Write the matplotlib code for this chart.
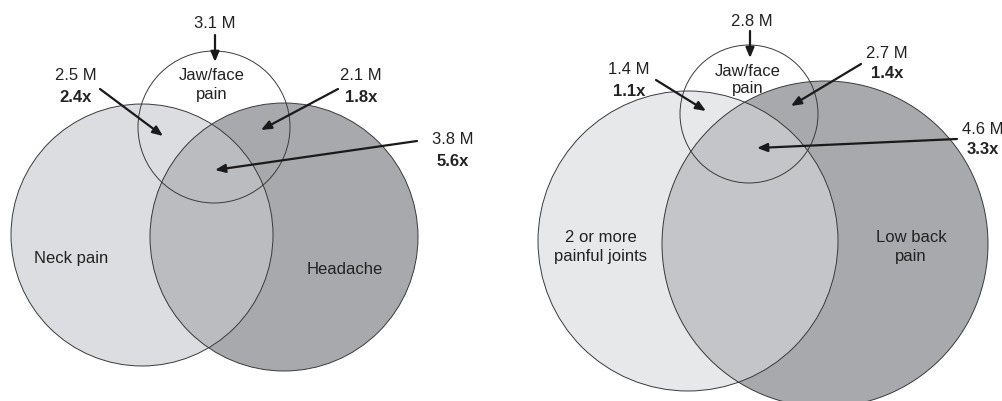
import matplotlib.pyplot as plt
from matplotlib.patches import Circle

plt.rcParams['font.family'] = ['Liberation Sans', 'DejaVu Sans']

# left diagram: neck pain / headache / jaw-face pain
left_sets = ['Neck pain', 'Headache', 'Jaw/face\npain']
left_counts = ['3.1 M', '2.5 M', '2.1 M', '3.8 M']
left_ratios = [None, '2.4x', '1.8x', '5.6x']

# right diagram: joints / low back / jaw-face pain
right_sets = ['2 or more\npainful joints', 'Low back\npain', 'Jaw/face\npain']
right_counts = ['2.8 M', '1.4 M', '2.7 M', '4.6 M']
right_ratios = [None, '1.1x', '1.4x', '3.3x']

fig = plt.figure(figsize=(10.03, 4.01), dpi=100)
ax = fig.add_axes([0, 0, 1, 1])
ax.set_xlim(0, 1003)
ax.set_ylim(401, 0)
ax.set_aspect('equal')
ax.axis('off')

edge = '#3a3a3a'
fs = 12


def venn(ca, cb, cj, col_a, col_b, col_ab):
    a = Circle(ca[:2], ca[2], fc=col_a, ec='none', zorder=1)
    b = Circle(cb[:2], cb[2], fc=col_b, ec='none', zorder=1)
    ax.add_patch(a)
    ax.add_patch(b)
    ab = Circle(cb[:2], cb[2], fc=col_ab, ec='none', zorder=2)
    ax.add_patch(ab)
    ab.set_clip_path(a)
    for c in (ca, cb, cj):
        ax.add_patch(Circle(c[:2], c[2], fc='none', ec=edge, lw=0.7, zorder=3))


def label(x, y, count, ratio, tail, head):
    ax.text(x, y, count, ha='center', va='center', fontsize=fs, color='#222222', zorder=5)
    if ratio:
        ax.text(x, y + 21, ratio, ha='center', va='center', fontsize=fs,
                fontweight='bold', color='#222222', zorder=5)
    ax.annotate('', xy=head, xytext=tail, zorder=6,
                arrowprops=dict(arrowstyle='-|>,head_length=0.6,head_width=0.25',
                                color='#1a1a1a', lw=1.6, shrinkA=0, shrinkB=0))


# ---- left
venn((142, 235, 131), (284, 237, 134), (214, 127, 76),
     '#dcdde0', '#a8a9ad', '#bbbcc0')
ax.text(71, 258, left_sets[0], ha='center', va='center', fontsize=fs, color='#222222', zorder=5)
ax.text(345, 269, left_sets[1], ha='center', va='center', fontsize=fs, color='#222222', zorder=5)
ax.text(212, 85, left_sets[2], ha='center', va='center', fontsize=fs, color='#222222',
        linespacing=1.3, zorder=5)
label(215, 24, left_counts[0], left_ratios[0], (215, 35), (215, 62))
label(76, 76, left_counts[1], left_ratios[1], (100, 89), (163, 136))
label(361, 76, left_counts[2], left_ratios[2], (338, 89), (261, 130))
label(453, 140, left_counts[3], left_ratios[3], (417, 141), (215, 170))

# ---- right
venn((688, 241, 150), (825, 244, 163), (749, 114, 69),
     '#e7e8ea', '#a8a9ad', '#c4c5c8')
ax.text(601, 247, right_sets[0], ha='center', va='center', fontsize=fs, color='#222222',
        linespacing=1.25, zorder=5)
ax.text(911, 247, right_sets[1], ha='center', va='center', fontsize=fs, color='#222222',
        linespacing=1.25, zorder=5)
ax.text(748, 80, right_sets[2], ha='center', va='center', fontsize=fs, color='#222222',
        linespacing=1.2, zorder=5)
label(752, 22, right_counts[0], right_ratios[0], (750, 31), (750, 58))
label(629, 70, right_counts[1], right_ratios[1], (656, 80), (706, 111))
label(887, 53, right_counts[2], right_ratios[2], (861, 64), (791, 106))
label(983, 129, right_counts[3], right_ratios[3], (957, 139), (757, 148))

fig.savefig('out.png', dpi=100)
